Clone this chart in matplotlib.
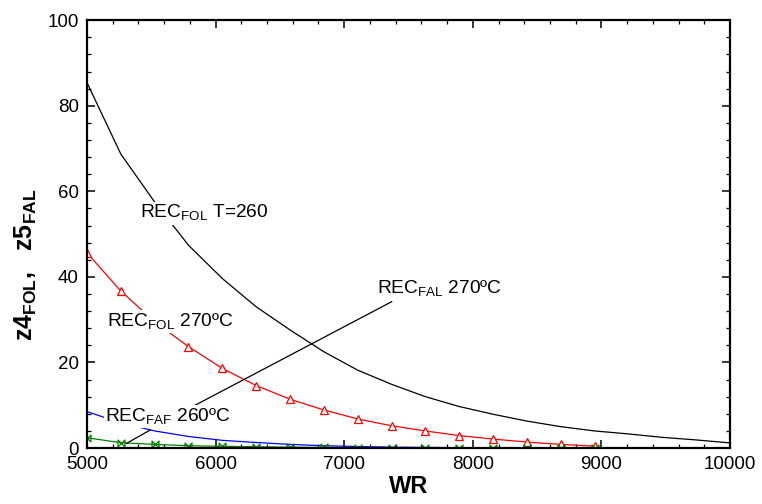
import numpy as np
import matplotlib
matplotlib.use("Agg")
import matplotlib.pyplot as plt
from matplotlib.path import Path
from matplotlib.ticker import MultipleLocator

plt.rcParams['font.family'] = ['Liberation Sans', 'DejaVu Sans']
plt.rcParams['mathtext.fontset'] = 'custom'
plt.rcParams['mathtext.rm'] = 'Liberation Sans'
plt.rcParams['mathtext.bf'] = 'Liberation Sans:bold'

# WR grid shared by all curves
wr = [5000, 5263, 5526, 5789, 6053, 6316, 6579, 6842, 7105, 7368,
      7632, 7895, 8158, 8421, 8684, 8947, 9211, 9474, 9737, 10000]

rec_fol_260 = [85.4, 68.7, 57.5, 47.4, 39.6, 33.0, 27.6, 22.5, 18.2, 14.9,
               12.0, 9.7, 7.9, 6.3, 5.0, 4.0, 3.3, 2.5, 1.9, 1.2]
rec_fol_270 = [45.6, 36.7, 29.5, 23.7, 18.6, 14.6, 11.4, 8.9, 6.8, 5.2,
               4.0, 2.9, 2.1, 1.4, 0.85, 0.45]
rec_faf_blue = [8.5, 5.9, 4.0, 2.7, 1.8, 1.3, 0.85, 0.55, 0.35, 0.22,
                0.14, 0.09, 0.06, 0.04, 0.02, 0.01]
rec_faf_260 = [2.4, 1.25, 0.85, 0.55, 0.4, 0.3, 0.2, 0.15, 0.1, 0.08,
               0.06, 0.05, 0.04, 0.03, 0.02, 0.01]

# leader lines drawn next to the labels
fal_line_x = [5840, 7369]
fal_line_y = [10.0, 34.2]
faf_line_x = [5308, 5490]
faf_line_y = [1.1, 4.2]

# bowtie marker for the green series
bowtie = Path([(-1, 1), (1, -1), (1, 1), (-1, -1), (-1, 1)],
              [Path.MOVETO, Path.LINETO, Path.LINETO, Path.LINETO, Path.CLOSEPOLY])

fig = plt.figure(figsize=(7.62, 5.04), dpi=100)
ax = fig.add_axes([0.1142, 0.111, 0.8438, 0.849])

lw = 0.9
ax.plot(wr, rec_fol_260, color='black', lw=lw)
ax.plot(wr[:len(rec_fol_270)], rec_fol_270, color='red', lw=lw,
        marker='^', markersize=6, markerfacecolor='white', markeredgewidth=0.9)
ax.plot(wr[:len(rec_faf_blue)], rec_faf_blue, color='blue', lw=lw)
ax.plot(wr[:len(rec_faf_260)], rec_faf_260, color='green', lw=lw,
        marker=bowtie, markersize=5, markerfacecolor='none', markeredgewidth=0.9)

ax.plot(fal_line_x, fal_line_y, color='black', lw=lw)
ax.plot(faf_line_x, faf_line_y, color='black', lw=lw)

box = dict(facecolor='white', edgecolor='none', pad=1)
fs = 13.8
ax.text(5412, 54.9, r'REC$_{\mathrm{FOL}}$ T=260', fontsize=fs, va='center', bbox=box, zorder=5)
ax.text(5153, 29.5, r'REC$_{\mathrm{FOL}}$ 270ºC', fontsize=fs, va='center', bbox=box, zorder=5)
ax.text(5140, 7.3, r'REC$_{\mathrm{FAF}}$ 260ºC', fontsize=fs, va='center', bbox=box, zorder=5)
ax.text(7255, 37.1, r'REC$_{\mathrm{FAL}}$ 270ºC', fontsize=fs, va='center', bbox=box, zorder=5)

ax.set_xlim(5000, 10000)
ax.set_ylim(0, 100)
ax.xaxis.set_major_locator(MultipleLocator(1000))
ax.xaxis.set_minor_locator(MultipleLocator(200))
ax.yaxis.set_major_locator(MultipleLocator(20))
ax.yaxis.set_minor_locator(MultipleLocator(4))
ax.tick_params(which='both', direction='in', top=True, right=True, labelsize=13.5)
ax.tick_params(which='major', length=6, width=1.1, pad=6)
ax.tick_params(which='minor', length=3, width=0.9)
for sp in ax.spines.values():
    sp.set_linewidth(1.6)

ax.set_xlabel('WR', fontsize=17, fontweight='bold', labelpad=1)
ax.set_ylabel(r'$\mathbf{z4_{FOL},\ \ z5_{FAL}}$', fontsize=18)
ax.yaxis.set_label_coords(-0.074, 0.428)

fig.savefig('out.png', dpi=100)
